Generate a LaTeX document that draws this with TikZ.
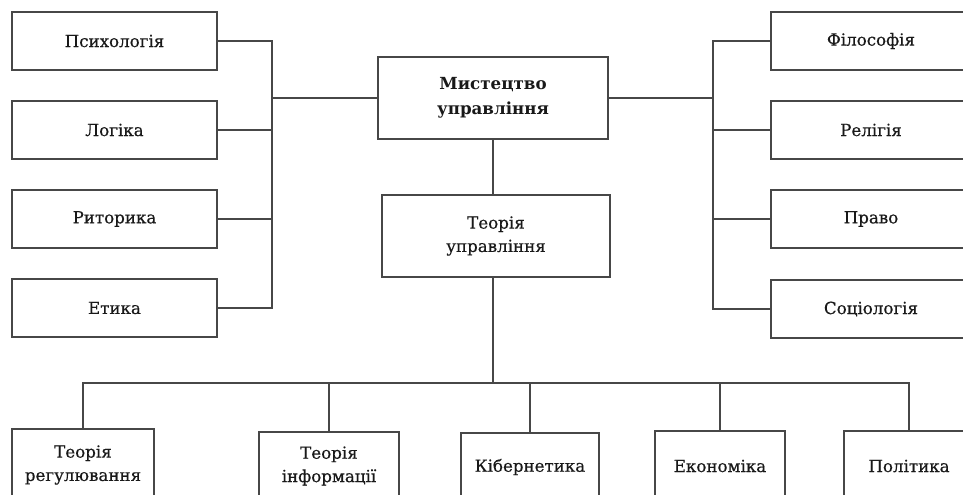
\documentclass[tikz,border=0pt]{standalone}
\usepackage{fontspec}
\setmainfont[FakeBold=0.5]{DejaVu Serif}
\newfontfamily\titlefont{DejaVu Serif}
\begin{document}
\begin{tikzpicture}[x=0.75pt,y=-0.75pt,
  box/.style 2 args={draw=black!72, line width=1.4pt, fill=white, text=black!90,
    minimum width=#1*0.75pt, minimum height=#2*0.75pt, inner sep=0pt,
    align=center, font=\fontsize{12.5}{17.5}\selectfont},
  link/.style={draw=black!72, line width=1.4pt}]
\useasboundingbox (0,0) rectangle (963,495);
\clip (0,0) rectangle (963,495);
\fill[white] (0,0) rectangle (963,495);
% left column
\node[box={205}{58}] (psy) at (114.5,41) {Психологія};
\node[box={205}{58}] (log) at (114.5,130) {Логіка};
\node[box={205}{58}] (rit) at (114.5,219) {Риторика};
\node[box={205}{58}] (eth) at (114.5,308) {Етика};
% right column
\node[box={200}{58}] (phi) at (871,41) {Філософія};
\node[box={200}{58}] (rel) at (871,130) {Релігія};
\node[box={200}{58}] (law) at (871,219) {Право};
\node[box={200}{58}] (soc) at (871,309) {Соціологія};
% centre
\node[box={230}{82}, font=\titlefont\bfseries\fontsize{12.5}{18.5}\selectfont] (art) at (493,98) {Мистецтво\\управління};
\node[box={228}{82}] (th) at (496,236) {Теорія\\управління};
% bottom
\node[box={142}{72}] (b1) at (83,465) {Теорія\\регулювання};
\node[box={140}{68}] (b2) at (329,466) {Теорія\\інформації};
\node[box={138}{68}] (b3) at (530,467) {Кібернетика};
\node[box={130}{70}] (b4) at (720,466) {Економіка};
\node[box={130}{70}] (b5) at (909,466) {Політика};
% bus coordinates
\coordinate (lx) at (272,0);
\coordinate (rx) at (713,0);
\coordinate (by) at (0,383);
% left bus
\draw[link] (psy.east) -- (psy.east -| lx) -- (eth.east -| lx) -- (eth.east);
\draw[link] (log.east) -- (log.east -| lx);
\draw[link] (rit.east) -- (rit.east -| lx);
\draw[link] (art.west) -- (art.west -| lx);
% right bus
\draw[link] (phi.west) -- (phi.west -| rx) -- (soc.west -| rx) -- (soc.west);
\draw[link] (rel.west) -- (rel.west -| rx);
\draw[link] (law.west) -- (law.west -| rx);
\draw[link] (art.east) -- (art.east -| rx);
% centre
\draw[link] (art.south) -- (art.south |- th.north);
\draw[link] (art.south |- th.south) -- (art.south |- by);
% bottom bus
\draw[link] (b1.north) -- (b1.north |- by) -- (b5.north |- by) -- (b5.north);
\draw[link] (b2.north) -- (b2.north |- by);
\draw[link] (b3.north) -- (b3.north |- by);
\draw[link] (b4.north) -- (b4.north |- by);
\end{tikzpicture}
\end{document}
